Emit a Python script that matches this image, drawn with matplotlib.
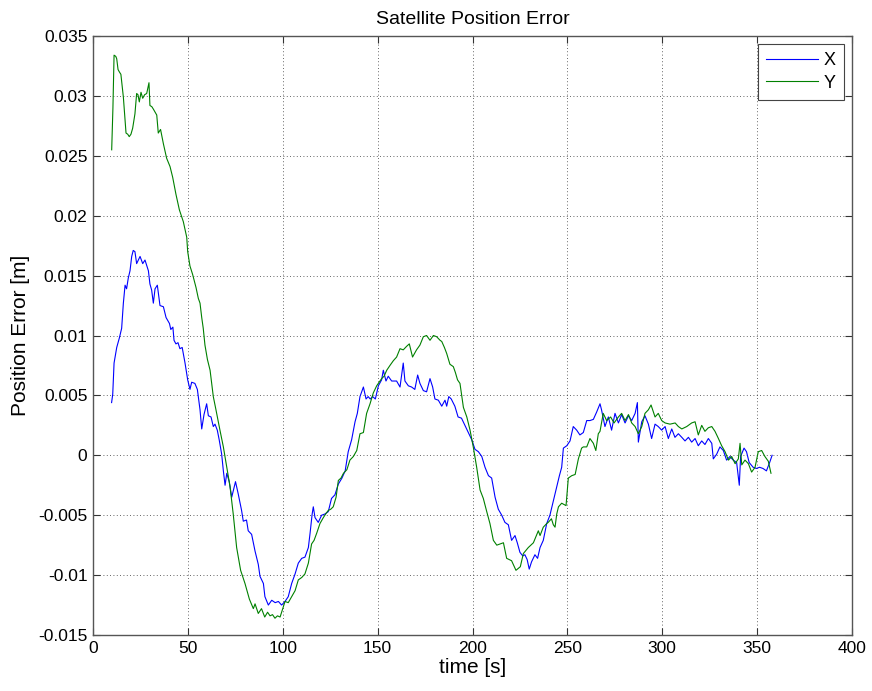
import matplotlib
matplotlib.use("Agg")
import matplotlib.pyplot as plt

plt.rcParams['font.family'] = ['Liberation Sans', 'DejaVu Sans']

# ---- data ----
t_x = [9.8, 10.4, 11.1, 12.5, 13.9, 15.1, 16.0, 16.9, 17.7, 18.6, 19.5, 20.4, 21.2, 22.1, 23.0, 23.9, 24.8,
       26.2, 27.4, 29.2, 30.0, 30.9, 31.8, 32.7, 33.9, 35.3, 37.1, 38.5, 40.3, 41.0, 42.1, 42.7, 43.7, 44.8,
       45.8, 47.0, 48.5, 49.9, 51.1, 52.0, 53.7, 55.0, 56.4, 57.3, 58.5, 59.9, 60.8, 62.2, 63.4, 64.3, 65.5,
       66.5, 67.8, 68.7, 69.6, 70.5, 71.8, 73.1, 74.0, 75.1, 76.5, 78.3, 79.2, 80.9, 81.8, 83.6, 85.4, 87.1,
       88.0, 89.8, 90.6, 92.4, 94.2, 96.0, 97.7, 99.4, 101.2, 102.9, 104.7, 106.5, 108.2, 110.0, 111.7, 113.5,
       114.4, 115.5, 116.1, 117.0, 118.7, 120.5, 122.2, 124.0, 125.7, 127.5, 129.3, 131.2, 132.9, 134.5, 136.3,
       138.1, 139.3, 140.7, 142.5, 143.9, 145.0, 146.1, 147.4, 148.8, 150.4, 152.1, 153.0, 154.4, 155.6, 157.4,
       160.0, 161.8, 163.5, 164.4, 166.2, 167.9, 169.6, 171.1, 172.3, 174.1, 175.8, 177.6, 179.0, 180.2, 182.0,
       183.8, 185.5, 186.4, 187.5, 188.8, 190.7, 192.4, 194.2, 196.0, 197.8, 199.6, 201.3, 203.1, 204.9, 206.6,
       208.4, 210.1, 211.9, 213.6, 215.4, 217.1, 218.9, 220.6, 222.4, 223.6, 225.0, 226.5, 227.6, 228.8, 229.9,
       231.1, 232.9, 234.3, 235.6, 237.3, 239.1, 240.8, 242.6, 244.4, 245.8, 247.0, 247.9, 249.7, 251.4, 253.1,
       254.9, 256.6, 258.4, 260.2, 261.9, 263.7, 265.4, 267.2, 268.0, 269.8, 271.6, 273.3, 275.1, 276.9, 278.6,
       280.4, 282.2, 283.9, 285.7, 286.9, 287.4, 289.2, 290.9, 292.7, 294.4, 296.2, 297.9, 299.7, 301.5, 303.2,
       305.0, 306.7, 308.5, 310.3, 312.0, 313.8, 315.5, 317.3, 319.0, 320.8, 322.5, 324.3, 326.1, 326.9, 328.7,
       330.4, 332.2, 333.9, 335.7, 337.4, 339.2, 340.6, 341.3, 343.1, 344.4, 345.8, 347.9, 349.6, 351.3, 353.1,
       354.9, 356.6, 357.9]
x_err = [0.0044, 0.0051, 0.0077, 0.0090, 0.0098, 0.0106, 0.0127, 0.0142, 0.0139, 0.0148, 0.0154, 0.0166, 0.0171,
         0.0170, 0.0160, 0.0163, 0.0166, 0.0160, 0.0163, 0.0154, 0.0143, 0.0138, 0.0127, 0.0139, 0.0142, 0.0125,
         0.0124, 0.0115, 0.0110, 0.0105, 0.0107, 0.0096, 0.0093, 0.0094, 0.0089, 0.0090, 0.0077, 0.0063, 0.0055,
         0.0061, 0.0060, 0.0055, 0.0038, 0.0022, 0.0034, 0.0043, 0.0033, 0.0032, 0.0024, 0.0026, 0.0021, 0.0013,
         0.0001, -0.0013, -0.0025, -0.0015, -0.0022, -0.0035, -0.0029, -0.0022, -0.0032, -0.0046, -0.0055, -0.0054,
         -0.0063, -0.0066, -0.0080, -0.0091, -0.0101, -0.0107, -0.0118, -0.0125, -0.0121, -0.0123, -0.0122, -0.0125,
         -0.0122, -0.0118, -0.0107, -0.0099, -0.0090, -0.0086, -0.0085, -0.0077, -0.0065, -0.0049, -0.0043, -0.0052,
         -0.0056, -0.0050, -0.0049, -0.0047, -0.0036, -0.0033, -0.0024, -0.0019, -0.0013, 0.0003, 0.0013, 0.0028,
         0.0035, 0.0049, 0.0057, 0.0047, 0.0049, 0.0047, 0.0049, 0.0047, 0.0058, 0.0063, 0.0071, 0.0062, 0.0066,
         0.0062, 0.0062, 0.0057, 0.0077, 0.0062, 0.0058, 0.0057, 0.0055, 0.0067, 0.0060, 0.0054, 0.0053, 0.0064,
         0.0057, 0.0047, 0.0046, 0.0041, 0.0046, 0.0041, 0.0049, 0.0047, 0.0041, 0.0032, 0.0031, 0.0025, 0.0019,
         0.0013, 0.0005, 0.0003, -0.0001, -0.0010, -0.0017, -0.0019, -0.0035, -0.0045, -0.0050, -0.0056, -0.0058,
         -0.0071, -0.0067, -0.0073, -0.0081, -0.0084, -0.0083, -0.0087, -0.0095, -0.0089, -0.0083, -0.0086, -0.0077,
         -0.0071, -0.0057, -0.0050, -0.0038, -0.0026, -0.0017, -0.0010, 0.0006, 0.0008, 0.0012, 0.0024, 0.0021,
         0.0017, 0.0019, 0.0029, 0.0029, 0.0030, 0.0036, 0.0043, 0.0038, 0.0024, 0.0032, 0.0021, 0.0035, 0.0027,
         0.0034, 0.0027, 0.0033, 0.0029, 0.0035, 0.0044, 0.0011, 0.0028, 0.0033, 0.0026, 0.0014, 0.0026, 0.0024,
         0.0021, 0.0024, 0.0014, 0.0022, 0.0015, 0.0018, 0.0015, 0.0012, 0.0015, 0.0011, 0.0014, 0.0008, 0.0012,
         0.0009, 0.0014, 0.0010, -0.0003, 0.0001, 0.0007, 0.0004, -0.0004, -0.0001, -0.0004, -0.0006, -0.0025,
         -0.0001, 0.0006, 0.0003, -0.0006, -0.0010, -0.0011, -0.0010, -0.0011, -0.0013, -0.0006, 0.0000]

t_y = [9.85, 10.5, 11.1, 12.0, 12.5, 13.2, 13.9, 14.7, 16.0, 17.4, 18.3, 19.1, 20.0, 20.9, 22.1, 23.0, 23.7, 24.4,
       25.3, 26.2, 27.2, 28.3, 29.5, 30.0, 31.0, 31.8, 33.6, 34.4, 35.6, 37.1, 38.8, 40.6, 42.0, 43.7, 45.5, 47.6,
       49.4, 49.9, 51.1, 52.5, 54.3, 55.5, 56.4, 57.3, 58.1, 59.0, 60.3, 61.7, 63.4, 64.8, 66.9, 68.7, 70.5, 72.2,
       73.9, 75.7, 77.8, 80.1, 82.4, 84.5, 85.4, 87.1, 88.8, 90.5, 92.0, 93.3, 94.6, 95.9, 97.2, 98.6, 99.8, 101.2,
       102.9, 104.7, 106.5, 108.2, 110.0, 111.7, 113.5, 115.2, 116.5, 117.9, 119.6, 121.4, 122.6, 124.0, 125.3,
       126.6, 128.1, 129.3, 130.7, 132.0, 133.8, 135.4, 137.2, 139.0, 140.7, 142.5, 144.2, 146.0, 147.7, 149.5,
       150.8, 152.1, 153.4, 154.8, 156.5, 158.3, 160.0, 161.8, 163.5, 165.3, 166.7, 168.4, 170.5, 172.3, 174.1,
       175.8, 177.6, 179.4, 181.1, 182.9, 183.8, 185.2, 186.4, 188.1, 189.9, 191.0, 192.1, 193.4, 195.2, 197.0,
       198.7, 200.4, 202.2, 204.0, 205.7, 207.5, 209.2, 211.0, 212.8, 214.5, 216.3, 218.0, 220.6, 222.9, 225.2,
       226.8, 229.4, 232.1, 234.7, 235.6, 237.3, 239.1, 239.9, 241.6, 242.6, 243.5, 244.4, 245.3, 247.0, 249.3,
       250.5, 252.3, 254.1, 255.8, 257.5, 258.4, 260.2, 261.9, 263.7, 265.0, 266.3, 267.2, 268.9, 270.7, 272.8,
       274.6, 276.9, 278.6, 280.4, 282.2, 283.9, 285.7, 287.4, 289.2, 290.9, 292.7, 294.1, 296.2, 297.9, 299.7,
       301.5, 304.1, 306.8, 308.5, 310.3, 312.9, 315.5, 317.3, 319.0, 320.8, 322.5, 324.3, 326.1, 327.8, 329.6,
       331.3, 333.1, 334.9, 336.6, 338.4, 340.1, 341.0, 341.9, 343.6, 345.4, 347.1, 348.9, 350.6, 352.4, 354.1,
       355.9, 357.3]
y_err = [0.0255, 0.0290, 0.0334, 0.0333, 0.0331, 0.0322, 0.0320, 0.0318, 0.0299, 0.0269, 0.0268, 0.0266, 0.0268,
         0.0273, 0.0285, 0.0302, 0.0301, 0.0295, 0.0303, 0.0298, 0.0301, 0.0302, 0.0311, 0.0292, 0.0291, 0.0289,
         0.0284, 0.0269, 0.0272, 0.0260, 0.0248, 0.0241, 0.0232, 0.0218, 0.0205, 0.0195, 0.0182, 0.0170, 0.0158,
         0.0151, 0.0140, 0.0131, 0.0127, 0.0115, 0.0106, 0.0092, 0.0080, 0.0071, 0.0049, 0.0038, 0.0021, 0.0007,
         -0.0010, -0.0026, -0.0049, -0.0077, -0.0096, -0.0107, -0.0120, -0.0128, -0.0124, -0.0132, -0.0128, -0.0135,
         -0.0131, -0.0134, -0.0133, -0.0136, -0.0134, -0.0135, -0.0129, -0.0122, -0.0123, -0.0118, -0.0113, -0.0104,
         -0.0102, -0.0099, -0.0090, -0.0074, -0.0071, -0.0065, -0.0057, -0.0052, -0.0049, -0.0046, -0.0045, -0.0043,
         -0.0035, -0.0021, -0.0019, -0.0015, -0.0012, -0.0004, -0.0001, 0.0004, 0.0018, 0.0019, 0.0035, 0.0043,
         0.0052, 0.0058, 0.0061, 0.0064, 0.0066, 0.0071, 0.0075, 0.0079, 0.0082, 0.0089, 0.0088, 0.0091, 0.0093,
         0.0082, 0.0088, 0.0092, 0.0099, 0.0100, 0.0096, 0.0100, 0.0099, 0.0096, 0.0095, 0.0090, 0.0085, 0.0076,
         0.0074, 0.0069, 0.0063, 0.0060, 0.0040, 0.0032, 0.0021, 0.0007, -0.0010, -0.0029, -0.0036, -0.0047,
         -0.0057, -0.0071, -0.0075, -0.0074, -0.0073, -0.0086, -0.0088, -0.0096, -0.0093, -0.0082, -0.0077, -0.0073,
         -0.0063, -0.0067, -0.0060, -0.0057, -0.0056, -0.0053, -0.0058, -0.0060, -0.0049, -0.0043, -0.0040, -0.0042,
         -0.0019, -0.0017, -0.0016, -0.0003, 0.0006, 0.0007, 0.0007, 0.0014, 0.0010, 0.0004, 0.0018, 0.0020, 0.0035,
         0.0029, 0.0032, 0.0027, 0.0032, 0.0035, 0.0029, 0.0034, 0.0027, 0.0024, 0.0018, 0.0024, 0.0035, 0.0038,
         0.0042, 0.0032, 0.0035, 0.0029, 0.0027, 0.0026, 0.0027, 0.0024, 0.0022, 0.0024, 0.0027, 0.0028, 0.0017,
         0.0025, 0.0020, 0.0023, 0.0024, 0.0020, 0.0014, 0.0008, 0.0003, -0.0004, -0.0001, -0.0007, -0.0003, 0.0010,
         -0.0008, -0.0004, -0.0007, -0.0014, -0.0010, 0.0003, 0.0004, -0.0001, -0.0005, -0.0015]

x_ticks = [0, 50, 100, 150, 200, 250, 300, 350, 400]
y_ticks = [-0.015, -0.01, -0.005, 0, 0.005, 0.01, 0.015, 0.02, 0.025, 0.03, 0.035]
y_tick_labels = ['-0.015', '-0.01', '-0.005', '0', '0.005', '0.01', '0.015', '0.02', '0.025', '0.03', '0.035']

# ---- figure ----
fig = plt.figure(figsize=(8.72, 6.91), dpi=100)
ax = fig.add_axes([93 / 872, 56 / 691, 759 / 872, 599 / 691])

ax.plot(t_x, x_err, color=(0, 0, 1), lw=0.8, label='X')
ax.plot(t_y, y_err, color=(0, 0.5, 0), lw=0.8, label='Y')

ax.set_xlim(0, 400)
ax.set_ylim(-0.015, 0.035)
ax.set_xticks(x_ticks)
ax.set_yticks(y_ticks)
ax.set_yticklabels(y_tick_labels)

ax.grid(True, color='black', linestyle=(0, (1, 3)), linewidth=0.6, alpha=0.8)
ax.tick_params(direction='in', length=5, width=0.8, top=True, right=True,
               labelsize=12.5, pad=4, color='#333333')
for s in ax.spines.values():
    s.set_color('#555555')
    s.set_linewidth(1.0)

ax.set_title('Satellite Position Error', fontsize=14, pad=9)
ax.set_xlabel('time [s]', fontsize=15, labelpad=2)
ax.set_ylabel('Position Error [m]', fontsize=15, labelpad=6)

leg = ax.legend(loc='upper right', fontsize=13, fancybox=False, framealpha=1,
                edgecolor='#444444', handlelength=2.9, borderaxespad=0.45,
                handletextpad=0.3, borderpad=0.45, labelspacing=0.3)
leg.get_frame().set_linewidth(0.8)

fig.savefig('out.png', dpi=100)
